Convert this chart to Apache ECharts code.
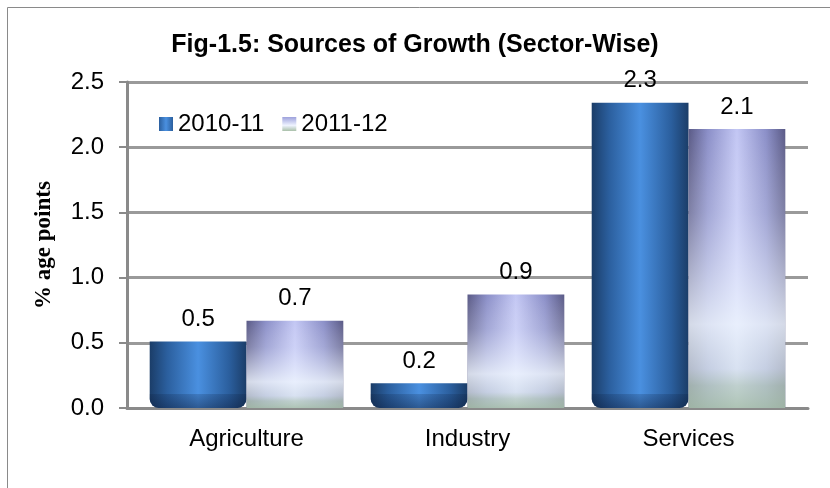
<!DOCTYPE html>
<html>
<head>
<meta charset="utf-8">
<script src="https://cdn.jsdelivr.net/npm/echarts@6/dist/echarts.min.js"></script>
<style>
  html, body { margin: 0; padding: 0; background: #fff; }
  #chart { width: 830px; height: 488px; }
</style>
</head>
<body>
<div id="chart"></div>
<script>
// Sector-wise contributions to growth, in percentage points
const categories = ['Agriculture', 'Industry', 'Services'];
const seriesNames = ['2010-11', '2011-12'];
const values2010 = [0.51, 0.19, 2.34];
const values2011 = [0.67, 0.87, 2.14];
const yMin = 0, yMax = 2.5, yStep = 0.5;

const SANS = '"Liberation Sans", Arial, sans-serif';
const SERIF = '"Liberation Serif", "Times New Roman", serif';

// Cylinder-like fills
const blueSide = new echarts.graphic.LinearGradient(0, 0, 1, 0, [
  { offset: 0, color: '#1b3d68' },
  { offset: 0.18, color: '#2b5f9e' },
  { offset: 0.5, color: '#4a90e0' },
  { offset: 0.82, color: '#2b5f9e' },
  { offset: 1, color: '#1b3d68' }
]);
const purpleSide = new echarts.graphic.LinearGradient(0, 0, 1, 0, [
  { offset: 0, color: '#5a5a86' },
  { offset: 0.2, color: '#8b8fc8' },
  { offset: 0.5, color: '#c3c7f4' },
  { offset: 0.8, color: '#8b8fc8' },
  { offset: 1, color: '#5a5a86' }
]);
const purpleWash = new echarts.graphic.LinearGradient(0, 0, 0, 1, [
  { offset: 0, color: 'rgba(255,255,255,0)' },
  { offset: 0.3, color: 'rgba(235,240,255,0.25)' },
  { offset: 0.7, color: 'rgba(242,249,255,0.8)' },
  { offset: 0.86, color: 'rgba(228,240,240,0.65)' },
  { offset: 0.92, color: 'rgba(190,212,190,0.7)' },
  { offset: 1, color: 'rgba(170,195,170,0.85)' }
]);
const blueLegend = new echarts.graphic.LinearGradient(0, 0, 1, 0, [
  { offset: 0, color: '#2b5f9e' },
  { offset: 0.5, color: '#4a90e0' },
  { offset: 1, color: '#2b5f9e' }
]);
const purpleLegend = new echarts.graphic.LinearGradient(0, 0, 0, 1, [
  { offset: 0, color: '#9da1dc' },
  { offset: 0.6, color: '#eef3ff' },
  { offset: 1, color: '#a9c0a9' }
]);

function makeRender(seriesIdx) {
  return function (params, api) {
    const i = api.value(0);
    const v = api.value(1);
    const base = api.coord([i, 0]);
    const top = api.coord([i, v]);
    const band = api.size([1, 0])[0];
    const w = band * 0.438;
    const x = seriesIdx === 0 ? base[0] - w : base[0];
    const y = top[1];
    const h = base[1] - top[1];
    const children = [];
    if (seriesIdx === 0) {
      children.push({
        type: 'rect',
        shape: { x: x, y: y, width: w, height: h, r: [0, 0, 9, 9] },
        style: { fill: blueSide }
      });
      const rim = Math.min(14, h);
      children.push({
        type: 'rect',
        shape: { x: x, y: base[1] - rim, width: w, height: rim, r: [0, 0, 9, 9] },
        style: {
          fill: new echarts.graphic.LinearGradient(0, 0, 0, 1, [
            { offset: 0, color: 'rgba(10,25,55,0.18)' },
            { offset: 1, color: 'rgba(10,25,55,0.45)' }
          ])
        }
      });
    } else {
      children.push({
        type: 'rect',
        shape: { x: x, y: y, width: w, height: h },
        style: { fill: purpleSide }
      });
      children.push({
        type: 'rect',
        shape: { x: x, y: y, width: w, height: h },
        style: { fill: purpleWash }
      });
    }
    children.push({
      type: 'text',
      style: {
        text: v.toFixed(1),
        x: x + w / 2,
        y: y - 10,
        align: 'center',
        verticalAlign: 'bottom',
        font: '24px ' + SANS,
        fill: '#000'
      }
    });
    return { type: 'group', children: children };
  };
}

const chart = echarts.init(document.getElementById('chart'), null, { renderer: 'canvas' });
chart.setOption({
  animation: false,
  backgroundColor: '#fff',
  title: {
    text: 'Fig-1.5: Sources of Growth (Sector-Wise)',
    left: 'center',
    top: 28,
    textStyle: { fontFamily: SANS, fontSize: 25, fontWeight: 'bold', color: '#000' }
  },
  legend: {
    data: [
      { name: seriesNames[0], itemStyle: { color: blueLegend } },
      { name: seriesNames[1], itemStyle: { color: purpleLegend } }
    ],
    left: 159,
    top: 112,
    padding: 0,
    icon: 'rect',
    itemWidth: 14,
    itemHeight: 14,
    itemGap: 18,
    textStyle: { fontFamily: SANS, fontSize: 24, color: '#000', padding: [0, 0, 0, 0] }
  },
  graphic: [{
    type: 'rect',
    shape: { x: 7.5, y: 7.5, width: 840, height: 500 },
    style: { fill: 'none', stroke: '#8a8a8a', lineWidth: 1 },
    silent: true
  }],
  grid: [
    // frame: value axis, gridlines and base line
    { left: 127, right: 22, top: 82, bottom: 80 },
    // category band used by the bars and their labels
    { left: 136, right: 31, top: 82, bottom: 80 }
  ],
  xAxis: [
    {
      gridIndex: 0,
      type: 'category',
      data: categories,
      axisLine: { lineStyle: { color: '#8a8a8a', width: 3 } },
      axisTick: { show: false },
      axisLabel: { show: false }
    },
    {
      gridIndex: 1,
      type: 'category',
      data: categories,
      axisLine: { show: false },
      axisTick: { show: false },
      axisLabel: { fontFamily: SANS, fontSize: 24, color: '#000', margin: 19 }
    }
  ],
  yAxis: [
    {
      gridIndex: 0,
      type: 'value',
      min: yMin,
      max: yMax,
      interval: yStep,
      name: '% age points',
      nameLocation: 'middle',
      nameGap: 71,
      nameTextStyle: { fontFamily: SERIF, fontSize: 23, fontWeight: 'bold', color: '#000' },
      axisLine: { show: true, lineStyle: { color: '#8a8a8a', width: 3 } },
      axisTick: { show: true, length: 8, lineStyle: { color: '#8a8a8a', width: 2 } },
      axisLabel: {
        fontFamily: SANS, fontSize: 24, color: '#000', margin: 23,
        formatter: function (val) { return val.toFixed(1); }
      },
      splitLine: { lineStyle: { color: '#9a9a9a', width: 3 } }
    },
    {
      gridIndex: 1,
      type: 'value',
      min: yMin,
      max: yMax,
      interval: yStep,
      show: false,
      splitLine: { show: false }
    }
  ],
  series: [
    {
      name: seriesNames[0],
      type: 'custom',
      xAxisIndex: 1,
      yAxisIndex: 1,
      renderItem: makeRender(0),
      itemStyle: { color: blueLegend },
      encode: { x: 0, y: 1 },
      data: values2010.map(function (v, i) { return [i, v]; }),
      z: 3
    },
    {
      name: seriesNames[1],
      type: 'custom',
      xAxisIndex: 1,
      yAxisIndex: 1,
      renderItem: makeRender(1),
      itemStyle: { color: purpleLegend },
      encode: { x: 0, y: 1 },
      data: values2011.map(function (v, i) { return [i, v]; }),
      z: 3
    }
  ]
});
</script>
</body>
</html>
